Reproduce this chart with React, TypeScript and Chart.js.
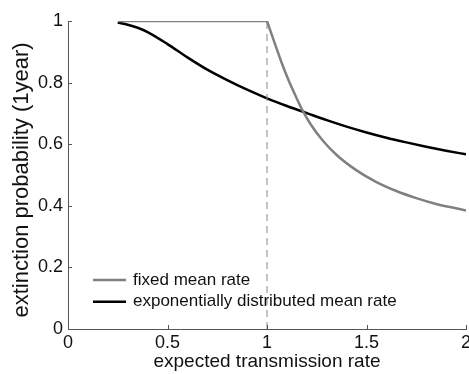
import React, { useEffect, useRef } from "react";
import { Chart, registerables } from "chart.js";

Chart.register(...registerables);

// ---- data ----
const xTickValues = [0, 0.5, 1, 1.5, 2];
const yTickValues = [0, 0.2, 0.4, 0.6, 0.8, 1];

const seriesLabels = ["fixed mean rate", "exponentially distributed mean rate"];
const yTitle = "extinction probability (1year)";
const xTitle = "expected transmission rate";

// fixed mean rate: flat part then decay
const fixedFlatX = [0.25, 1.0];
const fixedFlatY = [1, 1];
const fixedX = [1.0, 1.04, 1.075, 1.11, 1.14, 1.18, 1.22, 1.28, 1.35, 1.45, 1.55, 1.65, 1.75, 1.85, 2.0];
const fixedY = [1.0, 0.926, 0.862, 0.805, 0.762, 0.708, 0.664, 0.612, 0.565, 0.515, 0.477, 0.448, 0.425, 0.406, 0.385];

// exponentially distributed mean rate
const expX = [0.25, 0.3, 0.35, 0.4, 0.5, 0.6, 0.7, 0.8, 0.9, 1.0, 1.1, 1.2, 1.3, 1.4, 1.5, 1.6, 1.7, 1.8, 1.9, 2.0];
const expY = [0.995, 0.988, 0.978, 0.964, 0.925, 0.882, 0.842, 0.808, 0.777, 0.749, 0.724, 0.701, 0.678, 0.657, 0.638, 0.621, 0.606, 0.592, 0.579, 0.567];

// threshold marker at rate 1
const thresholdX = [1, 1];
const thresholdY = [0, 1];

const zip = (xs: number[], ys: number[]) => xs.map((x, i) => ({ x, y: ys[i] }));

const FONT = "'Liberation Sans', Arial, Helvetica, sans-serif";
const GRAY = "#808080";
const AXIS = "#555555";

const inwardTicks = {
  id: "inwardTicks",
  afterDraw(chart: any) {
    const { ctx, chartArea, scales } = chart;
    ctx.save();
    ctx.strokeStyle = AXIS;
    ctx.lineWidth = 1;
    ctx.beginPath();
    const xs = scales.x;
    xs.ticks.forEach((t: any) => {
      const px = Math.round(xs.getPixelForValue(t.value)) + 0.5;
      ctx.moveTo(px, chartArea.bottom);
      ctx.lineTo(px, chartArea.bottom - 4);
    });
    const ys = scales.y;
    ys.ticks.forEach((t: any) => {
      const py = Math.round(ys.getPixelForValue(t.value)) + 0.5;
      ctx.moveTo(chartArea.left, py);
      ctx.lineTo(chartArea.left + 4, py);
    });
    ctx.stroke();
    ctx.restore();
  },
};

const yTitlePlugin = {
  id: "yTitlePlugin",
  afterDraw(chart: any) {
    const { ctx, chartArea } = chart;
    ctx.save();
    ctx.font = `22px ${FONT}`;
    ctx.fillStyle = "#111";
    ctx.textAlign = "center";
    ctx.textBaseline = "middle";
    ctx.translate(22, (chartArea.top + chartArea.bottom) / 2 + 5);
    ctx.rotate(-Math.PI / 2);
    ctx.fillText(yTitle, 0, 0);
    ctx.restore();
  },
};

const customLegend = {
  id: "customLegend",
  afterDraw(chart: any) {
    const { ctx } = chart;
    const entries = chart.data.datasets.filter((d: any) => d.legendEntry);
    ctx.save();
    ctx.font = `17px ${FONT}`;
    ctx.textBaseline = "middle";
    ctx.textAlign = "left";
    const x0 = 93;
    const x1 = 126;
    const tx = 133;
    let y = 280;
    entries.forEach((d: any) => {
      ctx.strokeStyle = d.borderColor;
      ctx.lineWidth = d.borderWidth;
      ctx.beginPath();
      ctx.moveTo(x0, y);
      ctx.lineTo(x1, y);
      ctx.stroke();
      ctx.fillStyle = "#111";
      ctx.fillText(d.label, tx, y);
      y += 21.7;
    });
    ctx.restore();
  },
};

export default function App() {
  const ref = useRef<HTMLCanvasElement | null>(null);

  useEffect(() => {
    if (!ref.current) return;
    const chart = new Chart(ref.current, {
      type: "line",
      data: {
        datasets: [
          {
            label: "threshold",
            data: zip(thresholdX, thresholdY),
            borderColor: "#8a8a8a",
            borderWidth: 1,
            borderDash: [7, 5],
            pointRadius: 0,
            tension: 0,
          } as any,
          {
            label: seriesLabels[0] + " flat",
            data: zip(fixedFlatX, fixedFlatY),
            borderColor: GRAY,
            borderWidth: 2.5,
            pointRadius: 0,
            tension: 0,
          } as any,
          {
            label: seriesLabels[0],
            legendEntry: true,
            data: zip(fixedX, fixedY),
            borderColor: GRAY,
            borderWidth: 2.5,
            pointRadius: 0,
            cubicInterpolationMode: "monotone",
          } as any,
          {
            label: seriesLabels[1],
            legendEntry: true,
            data: zip(expX, expY),
            borderColor: "#000000",
            borderWidth: 2.5,
            pointRadius: 0,
            cubicInterpolationMode: "monotone",
          } as any,
        ],
      },
      options: {
        animation: false,
        responsive: true,
        maintainAspectRatio: false,
        layout: { padding: { top: 21, right: 3, left: 0, bottom: 0 } },
        plugins: {
          legend: { display: false },
          tooltip: { enabled: false },
        },
        scales: {
          x: {
            type: "linear",
            min: 0,
            max: 2,
            grid: { display: false, drawTicks: false, tickLength: 0 },
            border: { display: true, color: AXIS, width: 1 },
            afterBuildTicks: (s: any) => {
              s.ticks = xTickValues.map((v) => ({ value: v }));
            },
            afterFit: (s: any) => {
              s.height = 45;
              s.paddingLeft = 0;
              s.paddingRight = 0;
            },
            ticks: {
              color: "#111",
              font: { family: FONT, size: 18 },
              padding: 3,
              maxRotation: 0,
              autoSkip: false,
              callback: (v: any) => String(v),
            },
            title: {
              display: true,
              text: xTitle,
              color: "#111",
              font: { family: FONT, size: 19 },
              padding: { top: 0, bottom: 1 },
            },
          },
          y: {
            type: "linear",
            min: 0,
            max: 1,
            grid: { display: false, drawTicks: false, tickLength: 0 },
            border: { display: true, color: AXIS, width: 1 },
            afterBuildTicks: (s: any) => {
              s.ticks = yTickValues.map((v) => ({ value: v }));
            },
            afterFit: (s: any) => {
              s.width = 68;
              s.paddingTop = 0;
              s.paddingBottom = 0;
            },
            ticks: {
              color: "#111",
              font: { family: FONT, size: 18 },
              padding: 5,
              autoSkip: false,
              callback: (v: any) => String(v),
            },
            title: { display: false },
          },
        },
      },
      plugins: [inwardTicks, customLegend, yTitlePlugin],
    });
    return () => chart.destroy();
  }, []);

  return (
    <div style={{ position: "absolute", left: 0, top: 0, width: 469, height: 374, background: "#fff" }}>
      <canvas ref={ref} />
    </div>
  );
}
